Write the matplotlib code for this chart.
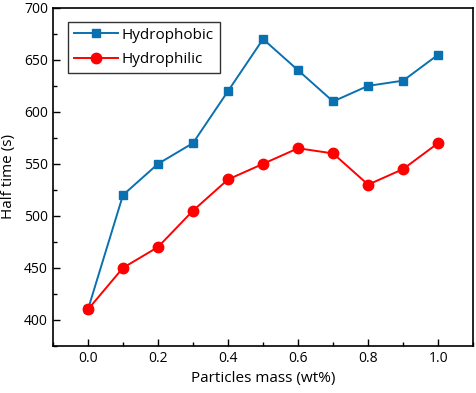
import matplotlib
matplotlib.use("Agg")
import matplotlib.pyplot as plt
from matplotlib.ticker import MultipleLocator

plt.rcParams['font.family'] = ['Open Sans', 'DejaVu Sans']

mass = [0.0, 0.1, 0.2, 0.3, 0.4, 0.5, 0.6, 0.7, 0.8, 0.9, 1.0]
hydrophobic = [410, 520, 550, 570, 620, 670, 640, 610, 625, 630, 655]
hydrophilic = [410, 450, 470, 505, 535, 550, 565, 560, 530, 545, 570]

fig = plt.figure(figsize=(4.77, 3.93), dpi=100)
ax = fig.add_axes([0.111, 0.120, 0.881, 0.860])

ax.plot(mass, hydrophobic, color='#0A70B0', marker='s', markersize=6, lw=1.4, label='Hydrophobic')
ax.plot(mass, hydrophilic, color='#FF0000', marker='o', markersize=7.5, lw=1.4, label='Hydrophilic')

ax.set_xlim(-0.1, 1.1)
ax.set_ylim(375, 700)
ax.xaxis.set_major_locator(MultipleLocator(0.2))
ax.xaxis.set_minor_locator(MultipleLocator(0.1))
ax.yaxis.set_major_locator(MultipleLocator(50))
ax.yaxis.set_minor_locator(MultipleLocator(25))
ax.tick_params(which='both', direction='in', labelsize=10)
ax.tick_params(which='major', length=5, width=1)
ax.tick_params(which='minor', length=3, width=1)
for s in ax.spines.values():
    s.set_linewidth(1.2)
ax.set_xticklabels([f'{v:.1f}' for v in ax.get_xticks()])

ax.set_xlabel('Particles mass (wt%)', fontsize=11, labelpad=4)
ax.set_ylabel('Half time (s)', fontsize=11, labelpad=6)

leg = ax.legend(loc='upper left', fontsize=11, frameon=True, fancybox=False,
                edgecolor='#333333', framealpha=1, borderpad=0.4,
                borderaxespad=0, handlelength=2.9, handletextpad=0.2,
                labelspacing=0.6, bbox_to_anchor=(0.036, 0.959))
leg.get_frame().set_linewidth(1.0)

fig.savefig('out.png', dpi=100)
